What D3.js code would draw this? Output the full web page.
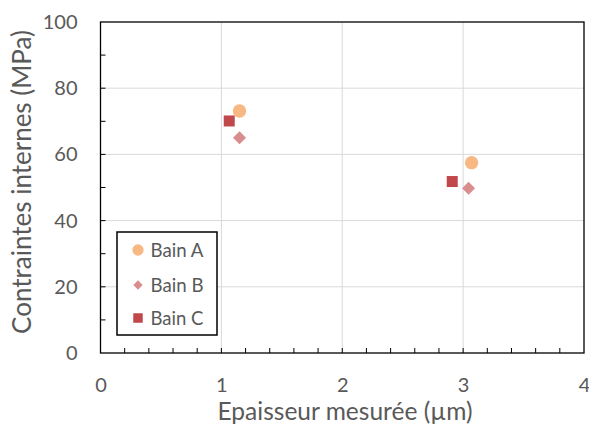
<!DOCTYPE html>
<html><head><meta charset="utf-8">
<script src="https://cdn.jsdelivr.net/npm/d3@7"></script>
<style>body{margin:0;background:#fff}svg{display:block}</style>
</head><body>
<script>
const seriesNames = ["Bain A", "Bain B", "Bain C"];
const bainA = [{x:1.15, y:73.1}, {x:3.07, y:57.5}];
const bainB = [{x:1.15, y:65.0}, {x:3.045, y:49.8}];
const bainC = [{x:1.065, y:70.1}, {x:2.91, y:51.8}];
const xTicks = [0,1,2,3,4];
const yTicks = [0,20,40,60,80,100];
const xTitle = "Epaisseur mesurée (µm)";
const yTitle = "Contraintes internes (MPa)";

const W=589,H=425;
const m={l:100.5,r:5,t:22,b:72};
const svg=d3.select("body").append("svg").attr("width",W).attr("height",H);
const x=d3.scaleLinear().domain([0,4]).range([m.l,W-m.r]);
const y=d3.scaleLinear().domain([0,100]).range([H-m.b,m.t]);
const font="Lato, 'Noto Sans', sans-serif";
const txt="#595959";

function fit(sel, target){
  const fs=+sel.attr("font-size");
  const w=sel.node().getComputedTextLength();
  sel.attr("font-size", fs*target/w);
}

// grid
svg.append("g").selectAll("line").data(xTicks.slice(1,-1)).join("line")
 .attr("x1",d=>x(d)).attr("x2",d=>x(d)).attr("y1",y(0)).attr("y2",y(100))
 .attr("stroke","#d9d9d9").attr("stroke-width",1);
svg.append("g").selectAll("line").data(yTicks.slice(1,-1)).join("line")
 .attr("y1",d=>y(d)).attr("y2",d=>y(d)).attr("x1",x(0)).attr("x2",x(4))
 .attr("stroke","#d9d9d9").attr("stroke-width",1);

// minor ticks
const xMinor=d3.range(1,20).map(i=>i*0.2);
svg.append("g").selectAll("line").data(xMinor).join("line")
 .attr("x1",d=>x(d)).attr("x2",d=>x(d)).attr("y1",y(0)).attr("y2",y(0)-5)
 .attr("stroke","#000").attr("stroke-width",1);
const yMinor=d3.range(1,10).map(i=>i*10);
svg.append("g").selectAll("line").data(yMinor).join("line")
 .attr("y1",d=>y(d)).attr("y2",d=>y(d)).attr("x1",x(0)).attr("x2",x(0)+5)
 .attr("stroke","#000").attr("stroke-width",1);

// border
svg.append("rect").attr("x",x(0)).attr("y",y(100)).attr("width",x(4)-x(0)).attr("height",y(0)-y(100))
 .attr("fill","none").attr("stroke","#000").attr("stroke-width",1.3);

// axes labels
const xa=d3.axisBottom(x).tickValues(xTicks).tickFormat(d3.format("d")).tickSize(0).tickPadding(0);
const gx=svg.append("g").attr("transform",`translate(0,${y(0)})`).call(xa);
gx.select(".domain").remove();
gx.selectAll("text").attr("dy",null).attr("y",39).attr("font-family",font).attr("font-size",20).attr("fill",txt);
const ya=d3.axisLeft(y).tickValues(yTicks).tickFormat(d3.format("d")).tickSize(0).tickPadding(23);
const gy=svg.append("g").attr("transform",`translate(${x(0)},0)`).call(ya);
gy.select(".domain").remove();
gy.selectAll("text").attr("font-family",font).attr("font-size",20).attr("fill",txt);

const xt=svg.append("text").attr("x",345).attr("y",420).attr("text-anchor","middle")
 .attr("font-family",font).attr("font-size",22).attr("fill",txt).text(xTitle);
fit(xt,255);
const yt=svg.append("text").attr("transform",`translate(31,${182}) rotate(-90)`).attr("text-anchor","middle")
 .attr("font-family",font).attr("font-size",22).attr("fill",txt).text(yTitle);
fit(yt,304);

const colors=["#F7B883","#D98E8E","#C0474A"];
const sym=[d3.symbolCircle,d3.symbolDiamond2,d3.symbolSquare];
const sizes=[140,108,121];
[bainA,bainB,bainC].forEach((data,i)=>{
 svg.append("g").selectAll("path").data(data).join("path")
  .attr("transform",d=>`translate(${x(d.x)},${y(d.y)})`)
  .attr("d",d3.symbol().type(sym[i]).size(sizes[i])).attr("fill",colors[i]);
});

// legend
const lg=svg.append("g");
lg.append("rect").attr("x",117).attr("y",232).attr("width",100).attr("height",103)
 .attr("fill","#fff").attr("stroke","#000").attr("stroke-width",1.5);
const ly=[250,285,318];
const lsizes=[100,55,90];
seriesNames.forEach((n,i)=>{
 lg.append("path").attr("transform",`translate(138,${ly[i]})`)
  .attr("d",d3.symbol().type(sym[i]).size(lsizes[i])).attr("fill",colors[i]);
 const t=lg.append("text").attr("x",150.5).attr("y",ly[i]).attr("dy","0.36em")
  .attr("font-family",font).attr("font-size",18).attr("fill",txt).text(n);
 fit(t,53);
});
</script>
</body></html>
